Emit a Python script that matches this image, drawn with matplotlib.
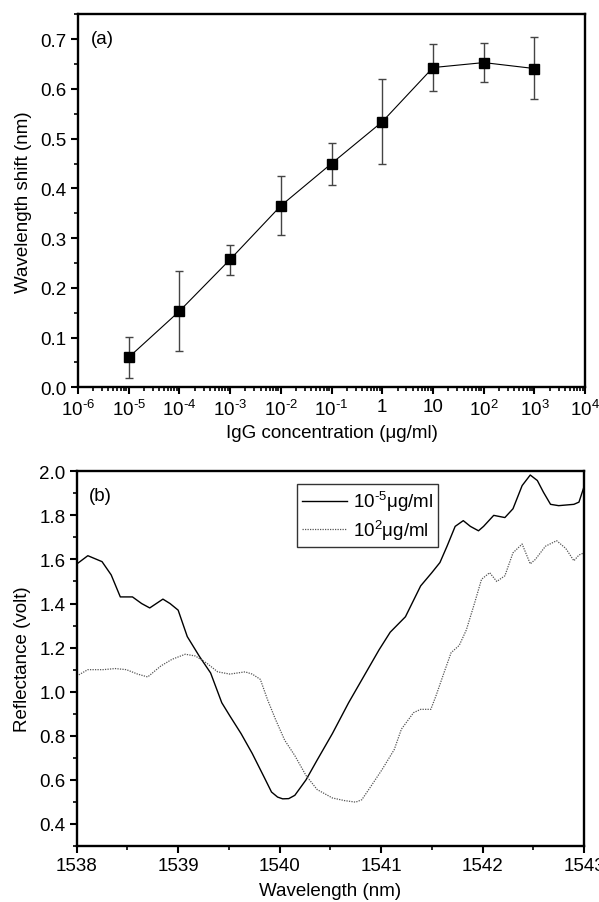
import numpy as np
import matplotlib
matplotlib.use('Agg')
import matplotlib.pyplot as plt
from matplotlib.ticker import FixedLocator, FixedFormatter, MultipleLocator, LogLocator, NullFormatter

plt.rcParams['font.family'] = ['Liberation Sans', 'DejaVu Sans']
plt.rcParams['mathtext.fontset'] = 'custom'
plt.rcParams['mathtext.rm'] = 'Liberation Sans'
plt.rcParams['mathtext.it'] = 'Liberation Sans:italic'

# ---- panel (a): wavelength shift vs IgG concentration ----
conc = [1e-5, 1e-4, 1e-3, 1e-2, 1e-1, 1, 10, 1e2, 1e3]
shift = [0.060, 0.153, 0.257, 0.365, 0.450, 0.534, 0.643, 0.653, 0.641]
err_lo = [0.041, 0.080, 0.031, 0.059, 0.044, 0.085, 0.047, 0.039, 0.062]
err_hi = [0.041, 0.081, 0.030, 0.059, 0.042, 0.086, 0.048, 0.039, 0.064]
conc_ticks = [1e-6, 1e-5, 1e-4, 1e-3, 1e-2, 1e-1, 1, 10, 1e2, 1e3, 1e4]
conc_labels = ['10$^{\u2010 6}$', '10$^{\u2010 5}$', '10$^{\u2010 4}$', '10$^{\u2010 3}$',
               '10$^{\u2010 2}$', '10$^{\u2010 1}$', '1', '10', '10$^{2}$', '10$^{3}$',
               '10$^{4}$']

# ---- panel (b): reflectance spectra ----
wl_low = [1538.00, 1538.11, 1538.25, 1538.34, 1538.43, 1538.55, 1538.64, 1538.72,
          1538.85, 1538.92, 1539.00, 1539.09, 1539.21, 1539.32, 1539.43, 1539.51,
          1539.62, 1539.73, 1539.85, 1539.92, 1539.98, 1540.03, 1540.09, 1540.15,
          1540.26, 1540.37, 1540.52, 1540.68, 1540.83, 1540.98, 1541.09, 1541.24,
          1541.39, 1541.50, 1541.58, 1541.65, 1541.73, 1541.81, 1541.88, 1541.96,
          1542.01, 1542.11, 1542.22, 1542.30, 1542.39, 1542.47, 1542.54, 1542.60,
          1542.67, 1542.75, 1542.90, 1542.95, 1543.00]
refl_low = [1.579, 1.617, 1.590, 1.530, 1.430, 1.430, 1.400, 1.380,
            1.420, 1.400, 1.370, 1.250, 1.160, 1.085, 0.950, 0.890,
            0.810, 0.720, 0.610, 0.545, 0.522, 0.514, 0.515, 0.530,
            0.600, 0.690, 0.810, 0.950, 1.070, 1.190, 1.270, 1.340,
            1.480, 1.540, 1.586, 1.660, 1.750, 1.776, 1.750, 1.730,
            1.750, 1.800, 1.790, 1.830, 1.935, 1.983, 1.958, 1.905,
            1.850, 1.844, 1.850, 1.860, 1.930]

wl_high = [1538.00, 1538.11, 1538.26, 1538.38, 1538.49, 1538.60, 1538.70, 1538.83,
           1538.94, 1539.07, 1539.17, 1539.28, 1539.39, 1539.51, 1539.66, 1539.73,
           1539.81, 1539.88, 1539.96, 1540.05, 1540.15, 1540.26, 1540.37, 1540.52,
           1540.64, 1540.75, 1540.81, 1540.90, 1541.01, 1541.13, 1541.20, 1541.32,
           1541.39, 1541.49, 1541.54, 1541.62, 1541.69, 1541.77, 1541.84, 1541.92,
           1541.99, 1542.07, 1542.14, 1542.22, 1542.30, 1542.39, 1542.47, 1542.52,
           1542.62, 1542.73, 1542.82, 1542.90, 1542.95, 1543.00]
refl_high = [1.071, 1.100, 1.100, 1.105, 1.100, 1.080, 1.067, 1.117,
             1.147, 1.170, 1.162, 1.130, 1.090, 1.080, 1.090, 1.080,
             1.056, 0.965, 0.874, 0.780, 0.710, 0.620, 0.556, 0.518,
             0.506, 0.499, 0.510, 0.571, 0.647, 0.738, 0.830, 0.905,
             0.920, 0.920, 0.980, 1.086, 1.177, 1.210, 1.280, 1.400,
             1.510, 1.540, 1.500, 1.526, 1.630, 1.670, 1.580, 1.600,
             1.660, 1.685, 1.650, 1.594, 1.620, 1.630]

FS = 13.5


def style_axes(ax):
    for sp in ax.spines.values():
        sp.set_linewidth(1.7)
    ax.tick_params(which='major', direction='out', length=5, width=1.5,
                   labelsize=FS, top=False, right=False, pad=3)
    ax.tick_params(which='minor', direction='out', length=3, width=1.2,
                   top=False, right=False)


fig = plt.figure(figsize=(5.99, 9.03), dpi=100)

# ---------------- (a) ----------------
ax1 = fig.add_axes([0.130, 0.570, 0.847, 0.413])
ax1.errorbar(conc, shift, yerr=[err_lo, err_hi], fmt='s-', color='black',
             ms=6.5, lw=0.8, ecolor='#444444', elinewidth=1.0, capsize=3,
             capthick=1.0)
ax1.set_xscale('log')
ax1.set_xlim(1e-6, 1e4)
ax1.set_ylim(0, 0.75)
ax1.xaxis.set_major_locator(FixedLocator(conc_ticks))
ax1.xaxis.set_major_formatter(FixedFormatter(conc_labels))
ax1.xaxis.set_minor_locator(LogLocator(base=10, subs=np.arange(2, 10), numticks=20))
ax1.xaxis.set_minor_formatter(NullFormatter())
ax1.yaxis.set_major_locator(MultipleLocator(0.1))
ax1.yaxis.set_minor_locator(MultipleLocator(0.05))
ax1.yaxis.set_major_formatter(plt.FuncFormatter(lambda v, p: f'{v:.1f}'))
style_axes(ax1)
ax1.set_xlabel('IgG concentration (μg/ml)', fontsize=FS, labelpad=4)
ax1.set_ylabel('Wavelength shift (nm)', fontsize=FS, labelpad=6)
ax1.text(0.025, 0.935, '(a)', transform=ax1.transAxes, fontsize=13.5,
         va='center', ha='left')

# ---------------- (b) ----------------
ax2 = fig.add_axes([0.128, 0.062, 0.847, 0.415])
ax2.plot(wl_low, refl_low, color='black', lw=1.0,
         label='10$^{\u2010 5}$μg/ml')
ax2.plot(wl_high, refl_high, color='#555555', lw=0.9, linestyle=(0, (1, 1)),
         label='10$^{2}$μg/ml')
ax2.set_xlim(1538, 1543)
ax2.set_ylim(0.3, 2.0)
ax2.xaxis.set_major_locator(MultipleLocator(1))
ax2.xaxis.set_minor_locator(MultipleLocator(0.5))
ax2.yaxis.set_major_locator(FixedLocator([0.4, 0.6, 0.8, 1.0, 1.2, 1.4, 1.6, 1.8, 2.0]))
ax2.yaxis.set_minor_locator(MultipleLocator(0.1))
ax2.yaxis.set_major_formatter(plt.FuncFormatter(lambda v, p: f'{v:.1f}'))
style_axes(ax2)
ax2.set_xlabel('Wavelength (nm)', fontsize=FS, labelpad=6)
ax2.set_ylabel('Reflectance (volt)', fontsize=FS, labelpad=6)
ax2.text(0.025, 0.935, '(b)', transform=ax2.transAxes, fontsize=13.5,
         va='center', ha='left')
leg = ax2.legend(loc='upper left', bbox_to_anchor=(0.435, 0.965), fontsize=13.5,
                 frameon=True, fancybox=False, edgecolor='black',
                 handlelength=2.4, handletextpad=0.3, borderpad=0.25,
                 labelspacing=0.25, borderaxespad=0)
leg.get_frame().set_linewidth(1.0)

fig.savefig('out.png', dpi=100, facecolor='white')
